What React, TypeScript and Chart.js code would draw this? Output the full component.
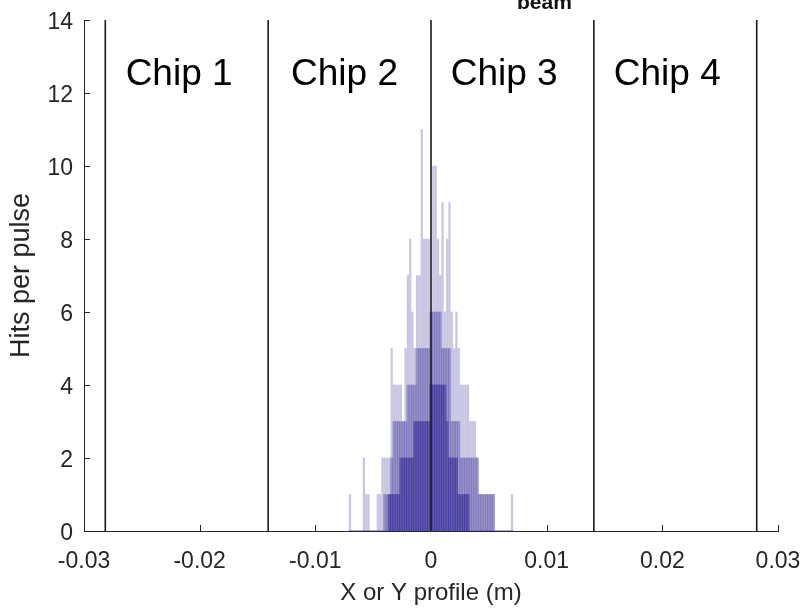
import React, { useEffect, useRef } from 'react';
import { Chart, registerables } from 'chart.js';

Chart.register(...registerables);

// Histogram bin centres (m)
const binCenters = [
  -0.0070, -0.0068, -0.0066, -0.0064, -0.0062, -0.0060, -0.0058, -0.0056, -0.0054, -0.0052,
  -0.0050, -0.0048, -0.0046, -0.0044, -0.0042, -0.0040, -0.0038, -0.0036, -0.0034, -0.0032,
  -0.0030, -0.0028, -0.0026, -0.0024, -0.0022, -0.0020, -0.0018, -0.0016, -0.0014, -0.0012,
  -0.0010, -0.0008, -0.0006, -0.0004, -0.0002, 0.0000, 0.0002, 0.0004, 0.0006, 0.0008,
  0.0010, 0.0012, 0.0014, 0.0016, 0.0018, 0.0020, 0.0022, 0.0024, 0.0026, 0.0028,
  0.0030, 0.0032, 0.0034, 0.0036, 0.0038, 0.0040, 0.0042, 0.0044, 0.0046, 0.0048,
  0.0050, 0.0052, 0.0054, 0.0056, 0.0058, 0.0060, 0.0062, 0.0064, 0.0066, 0.0068,
  0.0070,
];

// Hits per pulse: outer (lightest) layer
const envelopeHits = [
  1, 0, 0, 0, 0, 0, 2, 1, 1, 0,
  0, 0, 1, 1, 2, 2, 2, 2, 5, 4,
  4, 4, 4, 3, 5, 7, 8, 6, 5, 7,
  7, 11, 8, 8, 8, 6, 10, 10, 8, 7,
  9, 6, 8, 9, 6, 5, 6, 5, 4, 4,
  4, 4, 3, 3, 3, 2, 1, 1, 1, 1,
  1, 1, 1, 0, 0, 0, 0, 0, 0, 0,
  1,
];

// Hits per pulse: middle layer
const middleHits = [
  0, 0, 0, 0, 0, 0, 0, 0, 0, 0,
  0, 0, 0, 0, 0, 1, 1, 1, 2, 3,
  3, 3, 3, 3, 3, 4, 4, 4, 4, 5,
  5, 5, 5, 5, 5, 6, 6, 6, 6, 6,
  5, 5, 5, 5, 3, 3, 3, 3, 2, 2,
  2, 2, 2, 2, 2, 2, 1, 1, 1, 1,
  1, 1, 1, 0, 0, 0, 0, 0, 0, 0,
  0,
];

// Hits per pulse: dense core layer
const coreHits = [
  0, 0, 0, 0, 0, 0, 0, 0, 0, 0,
  0, 0, 0, 0, 0, 0, 0, 1, 1, 1,
  1, 1, 2, 2, 2, 2, 2, 2, 3, 3,
  3, 3, 3, 3, 3, 4, 4, 4, 4, 4,
  4, 4, 3, 2, 2, 2, 2, 1, 1, 1,
  1, 1, 0, 0, 0, 0, 0, 0, 0, 0,
  0, 0, 0, 0, 0, 0, 0, 0, 0, 0,
  0,
];

const chipBoundaries = [-0.02816, -0.01408, 0, 0.01408, 0.02816];
const chipLabels = ['Chip 1', 'Chip 2', 'Chip 3', 'Chip 4'];
const chipLabelX = [-0.0264, -0.0121, 0.0017, 0.0158];
const chipLabelY = 12.5;

const xTicks = [-0.03, -0.02, -0.01, 0, 0.01, 0.02, 0.03];
const xTickLabels = ['-0.03', '-0.02', '-0.01', '0', '0.01', '0.02', '0.03'];
const yTicks = [0, 2, 4, 6, 8, 10, 12, 14];
const yTickLabels = ['0', '2', '4', '6', '8', '10', '12', '14'];

const xTitle = 'X or Y profile (m)';
const yTitle = 'Hits per pulse';
const titleFragment = 'beam';

const FONT = '"Liberation Sans", Arial, Helvetica, sans-serif';
const AXIS = '#262626';

export default function App() {
  const ref = useRef<HTMLCanvasElement | null>(null);

  useEffect(() => {
    if (!ref.current) return;
    document.body.style.margin = '0';

    const mk = (arr: number[]) => binCenters.map((x, i) => ({ x, y: arr[i] }));

    const decor = {
      id: 'decor',
      afterDraw(chart: any) {
        const ctx = chart.ctx;
        const xs = chart.scales.x;
        const ys = chart.scales.y;
        const area = chart.chartArea;
        ctx.save();
        // inward ticks
        ctx.strokeStyle = AXIS;
        ctx.lineWidth = 1;
        ctx.beginPath();
        xTicks.forEach((v) => {
          const px = Math.round(xs.getPixelForValue(v)) + 0.5;
          ctx.moveTo(px, area.bottom);
          ctx.lineTo(px, area.bottom - 6);
        });
        yTicks.forEach((v) => {
          const py = Math.round(ys.getPixelForValue(v)) + 0.5;
          ctx.moveTo(area.left, py);
          ctx.lineTo(area.left + 6, py);
        });
        ctx.stroke();
        // tick labels
        ctx.fillStyle = AXIS;
        ctx.font = `23px ${FONT}`;
        ctx.textBaseline = 'alphabetic';
        ctx.textAlign = 'center';
        xTicks.forEach((v, i) => {
          ctx.fillText(xTickLabels[i], xs.getPixelForValue(v), area.bottom + 37);
        });
        ctx.textAlign = 'right';
        yTicks.forEach((v, i) => {
          ctx.fillText(yTickLabels[i], area.left - 11, ys.getPixelForValue(v) + 8.5);
        });
        // chip labels
        ctx.fillStyle = '#000';
        ctx.font = `37px ${FONT}`;
        ctx.textAlign = 'left';
        ctx.textBaseline = 'middle';
        chipLabels.forEach((t, i) => {
          ctx.fillText(t, xs.getPixelForValue(chipLabelX[i]), ys.getPixelForValue(chipLabelY));
        });
        // clipped title fragment
        ctx.font = `bold 21px ${FONT}`;
        ctx.textBaseline = 'alphabetic';
        ctx.fillStyle = '#111';
        ctx.fillText(titleFragment, 517, 9);
        ctx.restore();
      },
    };

    const chipDatasets = chipBoundaries.map((b) => ({
      type: 'line' as const,
      data: [
        { x: b, y: 0 },
        { x: b, y: 14 },
      ],
      borderColor: '#1a1a1a',
      borderWidth: 1.6,
      pointRadius: 0,
      fill: false,
      order: 0,
    }));

    const chart = new Chart(ref.current, {
      type: 'bar',
      data: {
        datasets: [
          {
            data: mk(envelopeHits),
            backgroundColor: 'rgba(45,35,145,0.26)',
            borderWidth: 0,
            barThickness: 1.6,
            grouped: false,
            order: 3,
          } as any,
          {
            data: mk(middleHits),
            backgroundColor: 'rgba(45,35,145,0.32)',
            borderWidth: 0,
            barThickness: 2.4,
            grouped: false,
            order: 2,
          } as any,
          {
            data: mk(coreHits),
            backgroundColor: 'rgba(45,35,145,0.5)',
            borderWidth: 0,
            barThickness: 2.4,
            grouped: false,
            order: 1,
          } as any,
          ...chipDatasets,
        ],
      },
      options: {
        animation: false,
        responsive: false,
        maintainAspectRatio: false,
        layout: { padding: { left: 0, top: 20, right: 28, bottom: 0 } },
        plugins: { legend: { display: false }, tooltip: { enabled: false } },
        scales: {
          x: {
            type: 'linear',
            min: -0.03,
            max: 0.03,
            offset: false,
            grid: { display: false, drawTicks: false },
            border: { display: true, color: AXIS, width: 1 },
            afterBuildTicks: (s: any) => {
              s.ticks = xTicks.map((v) => ({ value: v }));
            },
            afterFit: (s: any) => {
              s.height = 77;
            },
            ticks: { display: false, padding: 0 },
            title: {
              display: true,
              text: xTitle,
              color: AXIS,
              font: { family: FONT, size: 24 },
              padding: { top: 3, bottom: 0 },
            },
          },
          y: {
            type: 'linear',
            min: 0,
            max: 14,
            grid: { display: false, drawTicks: false },
            border: { display: true, color: AXIS, width: 1 },
            afterBuildTicks: (s: any) => {
              s.ticks = yTicks.map((v) => ({ value: v }));
            },
            afterFit: (s: any) => {
              s.width = 84;
            },
            ticks: { display: false, padding: 0 },
            title: {
              display: true,
              text: yTitle,
              color: AXIS,
              font: { family: FONT, size: 27 },
              padding: { top: 5, bottom: 0 },
            },
          },
        },
      } as any,
      plugins: [decor],
    });

    return () => chart.destroy();
  }, []);

  return (
    <div style={{ position: 'fixed', left: 0, top: 0, width: 806, height: 608, background: '#fff' }}>
      <canvas ref={ref} width={806} height={608} style={{ width: 806, height: 608 }} />
    </div>
  );
}
